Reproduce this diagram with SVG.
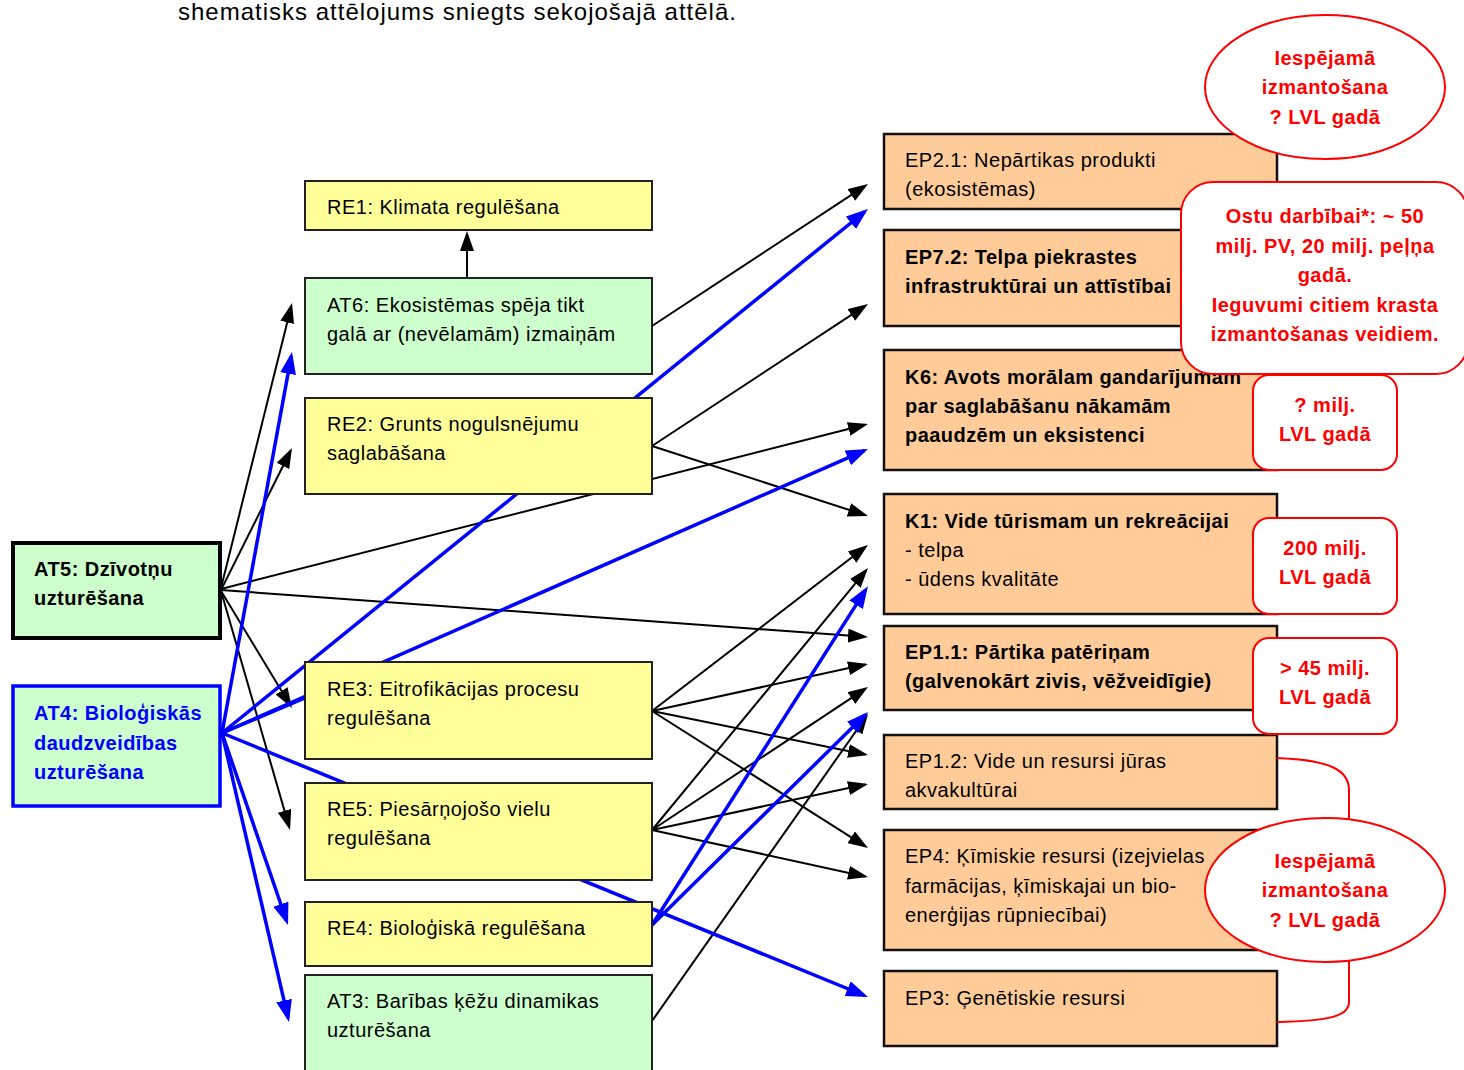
<svg xmlns="http://www.w3.org/2000/svg" width="1464" height="1070" viewBox="0 0 1464 1070">
<style>
text{font-family:"Liberation Sans",Arial,sans-serif;font-size:20px;fill:#000;letter-spacing:0.5px}
.b{font-weight:bold;letter-spacing:0.45px}
.cap{font-size:24px;letter-spacing:1px}
.red{fill:#FF0000;font-weight:bold;text-anchor:middle;letter-spacing:0.5px}
.blu{fill:#0000FF;font-weight:bold;letter-spacing:0.45px}
.y{fill:#FFFF99;stroke:#222;stroke-width:2}
.g{fill:#CCFFCC;stroke:#222;stroke-width:2}
.o{fill:#FFCC99;stroke:#111;stroke-width:2.5}
.k{stroke:#000;stroke-width:2;fill:none;marker-end:url(#ak)}
.bl{stroke:#0000FF;stroke-width:3.5;fill:none;marker-end:url(#ab)}
.co{fill:#fff;stroke:#FF0000;stroke-width:2}
</style>
<defs>
<marker id="ak" markerUnits="userSpaceOnUse" viewBox="0 0 20 14" markerWidth="20" markerHeight="14" refX="17" refY="7" orient="auto"><path d="M0,0 L20,7 L0,14 z" fill="#000"/></marker>
<marker id="ab" markerUnits="userSpaceOnUse" viewBox="0 0 22 16" markerWidth="22" markerHeight="16" refX="18" refY="8" orient="auto"><path d="M0,0 L22,8 L0,16 z" fill="#0000FF"/></marker>
</defs>
<rect width="1464" height="1070" fill="#fff"/>
<text class="cap" x="178" y="20">shematisks attēlojums sniegts sekojošajā attēlā.</text>

<g id="connectors">
<line class="k" x1="467" y1="278" x2="467" y2="234"/>
<line class="k" x1="652" y1="326" x2="865.5" y2="185.6"/>
<line class="k" x1="652" y1="446" x2="865.5" y2="305.6"/>
<line class="k" x1="652" y1="446" x2="865.1" y2="515.1"/>
<line class="k" x1="221" y1="589" x2="865.1" y2="424.7"/>
<line class="k" x1="221" y1="590" x2="865" y2="636.8"/>
<line class="k" x1="221" y1="588" x2="291.3" y2="305.9"/>
<line class="k" x1="221" y1="590" x2="290.6" y2="450.7"/>
<line class="k" x1="221" y1="591" x2="290.4" y2="705.4"/>
<line class="k" x1="221" y1="591" x2="289.2" y2="827.1"/>
<line class="k" x1="652" y1="711" x2="865.6" y2="546.8"/>
<line class="k" x1="652" y1="711" x2="865.1" y2="664.6"/>
<line class="k" x1="652" y1="711" x2="865.1" y2="754.4"/>
<line class="k" x1="652" y1="711" x2="865.5" y2="846.4"/>
<line class="k" x1="652" y1="830" x2="866.1" y2="570.3"/>
<line class="k" x1="652" y1="830" x2="865.5" y2="688.7"/>
<line class="k" x1="652" y1="830" x2="865.1" y2="784.6"/>
<line class="k" x1="652" y1="830" x2="865.1" y2="876.4"/>
<line class="k" x1="652" y1="1021" x2="866.3" y2="716.5"/>
<line class="bl" x1="222" y1="733" x2="291.3" y2="355.9"/>
<line class="bl" x1="222" y1="733" x2="864.9" y2="211.5"/>
<line class="bl" x1="222" y1="733" x2="864.3" y2="450.6"/>
<line x1="222" y1="733" x2="312" y2="695" stroke="#0000FF" stroke-width="3.5"/>
<line class="bl" x1="222" y1="733" x2="864.3" y2="995.5"/>
<line class="bl" x1="222" y1="733" x2="286.7" y2="921.2"/>
<line class="bl" x1="222" y1="733" x2="288.1" y2="1018.1"/>
<line class="bl" x1="652" y1="925" x2="865.8" y2="589.6"/>
<line class="bl" x1="652" y1="925" x2="865.2" y2="714.8"/>
</g>

<g id="RE1"><rect class="y" x="305" y="181" width="347" height="49"/><text x="327" y="214">RE1: Klimata regulēšana</text></g>
<g id="AT6"><rect class="g" x="305" y="278" width="347" height="96"/><text x="327" y="312">AT6: Ekosistēmas spēja tikt</text><text x="327" y="341">galā ar (nevēlamām) izmaiņām</text></g>
<g id="RE2"><rect class="y" x="305" y="398" width="347" height="96"/><text x="327" y="431">RE2: Grunts nogulsnējumu</text><text x="327" y="460">saglabāšana</text></g>
<g id="RE3"><rect class="y" x="305" y="662" width="347" height="97"/><text x="327" y="696">RE3: Eitrofikācijas procesu</text><text x="327" y="725">regulēšana</text></g>
<g id="RE5"><rect class="y" x="305" y="783" width="347" height="97"/><text x="327" y="816">RE5: Piesārņojošo vielu</text><text x="327" y="845">regulēšana</text></g>
<g id="RE4"><rect class="y" x="305" y="902" width="347" height="64"/><text x="327" y="935">RE4: Bioloģiskā regulēšana</text></g>
<g id="AT3"><rect class="g" x="305" y="975" width="347" height="110"/><text x="327" y="1008">AT3: Barības ķēžu dinamikas</text><text x="327" y="1037">uzturēšana</text></g>

<g id="AT5"><rect x="13" y="543" width="207" height="95" fill="#CCFFCC" stroke="#000" stroke-width="4"/><text class="b" x="34" y="576">AT5: Dzīvotņu</text><text class="b" x="34" y="605">uzturēšana</text></g>
<g id="AT4"><rect x="13" y="686" width="207" height="120" fill="#CCFFCC" stroke="#0000FF" stroke-width="3.5"/><text class="blu" x="34" y="720">AT4: Bioloģiskās</text><text class="blu" x="34" y="750">daudzveidības</text><text class="blu" x="34" y="779">uzturēšana</text></g>

<g id="EP2.1"><rect class="o" x="884" y="134" width="393" height="75"/><text x="905" y="167">EP2.1: Nepārtikas produkti</text><text x="905" y="196">(ekosistēmas)</text></g>
<g id="EP7.2"><rect class="o" x="884" y="230" width="393" height="96"/><text class="b" x="905" y="264">EP7.2: Telpa piekrastes</text><text class="b" x="905" y="293">infrastruktūrai un attīstībai</text></g>
<g id="K6"><rect class="o" x="884" y="350" width="393" height="120"/><text class="b" x="905" y="384">K6: Avots morālam gandarījumam</text><text class="b" x="905" y="413">par saglabāšanu nākamām</text><text class="b" x="905" y="442">paaudzēm un eksistenci</text></g>
<g id="K1"><rect class="o" x="884" y="494" width="393" height="120"/><text class="b" x="905" y="528">K1: Vide tūrismam un rekreācijai</text><text x="905" y="557">- telpa</text><text x="905" y="586">- ūdens kvalitāte</text></g>
<g id="EP1.1"><rect class="o" x="884" y="626" width="393" height="84"/><text class="b" x="905" y="659">EP1.1: Pārtika patēriņam</text><text class="b" x="905" y="688">(galvenokārt zivis, vēžveidīgie)</text></g>
<g id="EP1.2"><rect class="o" x="884" y="735" width="393" height="74"/><text x="905" y="768">EP1.2: Vide un resursi jūras</text><text x="905" y="797">akvakultūrai</text></g>
<g id="EP4"><rect class="o" x="884" y="830" width="393" height="120"/><text x="905" y="863">EP4: Ķīmiskie resursi (izejvielas</text><text x="905" y="893">farmācijas, ķīmiskajai un bio-</text><text x="905" y="922">enerģijas rūpniecībai)</text></g>
<g id="EP3"><rect class="o" x="884" y="971" width="393" height="75"/><text x="905" y="1005">EP3: Ģenētiskie resursi</text></g>

<g id="brace" fill="none" stroke="#FF0000" stroke-width="2">
<path d="M1277,758 C1330,760 1349,770 1349,790 L1349,820"/>
<path d="M1349,958 L1349,1002 C1349,1016 1330,1021 1277,1022"/>
</g>

<g id="callout-top"><ellipse class="co" cx="1325" cy="87" rx="120" ry="72"/><text class="red" x="1325" y="65">Iespējamā</text><text class="red" x="1325" y="94">izmantošana</text><text class="red" x="1325" y="124">? LVL gadā</text></g>
<g id="callout-ostu"><rect class="co" x="1181" y="182" width="287" height="192" rx="32"/><text class="red" x="1325" y="223">Ostu darbībai*: ~ 50</text><text class="red" x="1325" y="253">milj. PV, 20 milj. peļņa</text><text class="red" x="1325" y="282">gadā.</text><text class="red" x="1325" y="312">Ieguvumi citiem krasta</text><text class="red" x="1325" y="341">izmantošanas veidiem.</text></g>
<g id="callout-k6"><rect class="co" x="1253" y="375" width="144" height="95" rx="16"/><text class="red" x="1325" y="412">? milj.</text><text class="red" x="1325" y="441">LVL gadā</text></g>
<g id="callout-k1"><rect class="co" x="1253" y="518" width="144" height="96" rx="16"/><text class="red" x="1325" y="555">200 milj.</text><text class="red" x="1325" y="584">LVL gadā</text></g>
<g id="callout-ep11"><rect class="co" x="1253" y="638" width="144" height="96" rx="16"/><text class="red" x="1325" y="675">&gt; 45 milj.</text><text class="red" x="1325" y="704">LVL gadā</text></g>
<g id="callout-bottom"><ellipse class="co" cx="1325" cy="890" rx="120" ry="72"/><text class="red" x="1325" y="868">Iespējamā</text><text class="red" x="1325" y="897">izmantošana</text><text class="red" x="1325" y="927">? LVL gadā</text></g>
</svg>
